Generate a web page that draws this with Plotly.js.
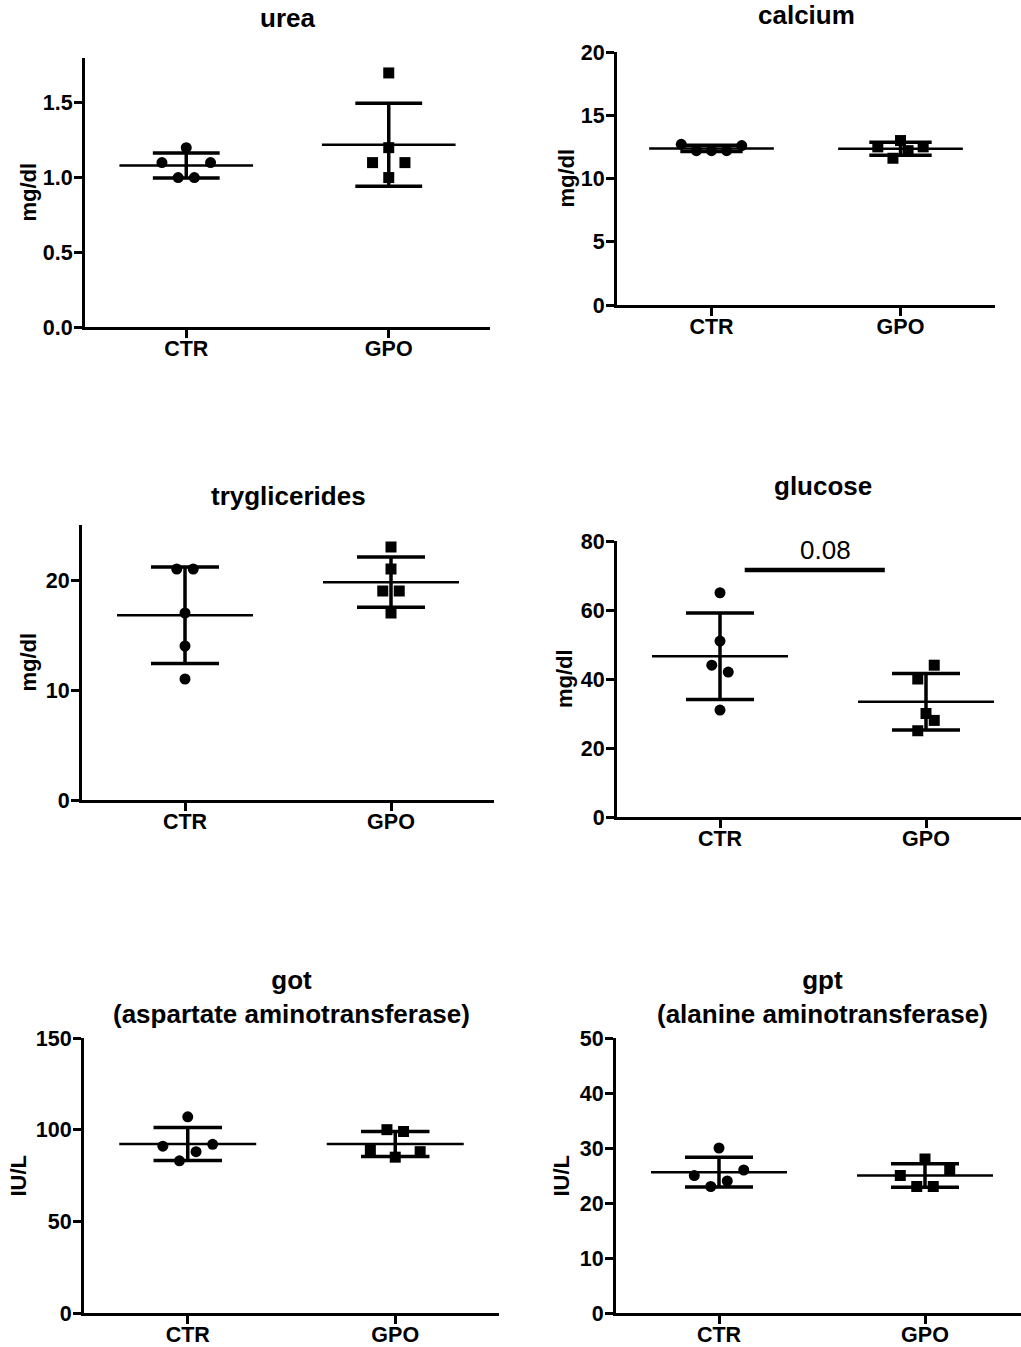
<!DOCTYPE html>
<html><head><meta charset="utf-8">
<script src="https://cdn.plot.ly/plotly-3.0.1.min.js"></script>
<style>html,body{margin:0;padding:0;background:#fff}</style>
</head><body><div id="chart" style="width:1021px;height:1347px"></div>
<script>
// ---- data ----
const groups = ['CTR', 'GPO'];
const ureaCTR = [1.2, 1.1, 1.1, 1.0, 1.0];
const ureaGPO = [1.7, 1.2, 1.1, 1.1, 1.0];
const calciumCTR = [12.7, 12.2, 12.2, 12.2, 12.6];
const calciumGPO = [13.0, 12.5, 12.5, 12.2, 11.6];
const trigCTR = [21, 21, 17, 14, 11];
const trigGPO = [23, 21, 19, 19, 17];
const glucoseCTR = [65, 51, 44, 42, 31];
const glucoseGPO = [44, 40, 30, 28, 25];
const gotCTR = [107, 91, 92, 88, 83];
const gotGPO = [100, 99, 89, 88, 85];
const gptCTR = [30, 25, 26, 24, 23];
const gptGPO = [28, 25, 26, 23, 23];
const glucoseP = '0.08';

// ---- layout helpers (horizontal spread slots of overlapping dots) ----
const slots = {
  urea: [[0, -1.5, 1.5, -0.5, 0.5], [0, 0, -1, 1, 0]],
  calcium: [[-2, -1, 0, 1, 2], [0, -1.5, 1.5, 0.5, -0.5]],
  trig: [[-0.5, 0.5, 0, 0, 0], [0, 0, -0.5, 0.5, 0]],
  glucose: [[0, 0, -0.5, 0.5, 0], [0.5, -0.5, 0, 0.5, -0.5]],
  got: [[0, -1.5, 1.5, 0.5, -0.5], [-0.5, 0.5, -1.5, 1.5, 0]],
  gpt: [[0, -1.5, 1.5, 0.5, -0.5], [0, -1.5, 1.5, -0.5, 0.5]]
};

const W = 1021, H = 1347;
const panels = [
  {key:'urea', title:'urea', ytitle:'mg/dl', data:[ureaCTR, ureaGPO], box:[85,490,58,327], xr:[-0.5,1.5], yr:[0,1.8], tv:[0,0.5,1,1.5], fmt:'.1f', titleY:18, ytX:28},
  {key:'calcium', title:'calcium', ytitle:'mg/dl', data:[calciumCTR, calciumGPO], box:[617,995,52,305], xr:[-0.5,1.5], yr:[0,20], tv:[0,5,10,15,20], fmt:'d', titleY:15, ytX:566},
  {key:'trig', title:'tryglicerides', ytitle:'mg/dl', data:[trigCTR, trigGPO], box:[82,494,525,800], xr:[-0.5,1.5], yr:[0,25], tv:[0,10,20], fmt:'d', titleY:496, ytX:28},
  {key:'glucose', title:'glucose', ytitle:'mg/dl', data:[glucoseCTR, glucoseGPO], box:[617,1021,541,817], xr:[-0.5,-0.5+(1021-617)/206], yr:[0,80], tv:[0,20,40,60,80], fmt:'d', titleY:486, titleX:823, ytX:564},
  {key:'got', title:'got<br>(aspartate aminotransferase)', ytitle:'IU/L', data:[gotCTR, gotGPO], box:[84,499,1038,1313], xr:[-0.5,1.5], yr:[0,150], tv:[0,50,100,150], fmt:'d', titleY:997, ytX:18},
  {key:'gpt', title:'gpt<br>(alanine aminotransferase)', ytitle:'IU/L', data:[gptCTR, gptGPO], box:[616,1021,1038,1313], xr:[-0.5,-0.5+(1021-616)/206], yr:[0,50], tv:[0,10,20,30,40,50], fmt:'d', titleY:997, titleX:822, ytX:561}
];

const mean = a => a.reduce((s, v) => s + v, 0) / a.length;
const sd = a => { const m = mean(a); return Math.sqrt(a.reduce((s, v) => s + (v - m) * (v - m), 0) / (a.length - 1)); };

const FONT = 'Arial, "Liberation Sans", sans-serif';
const traces = [];
const layout = {
  width: W, height: H, margin: {l:0, r:0, t:0, b:0},
  paper_bgcolor: '#fff', plot_bgcolor: '#fff', showlegend: false,
  annotations: [], shapes: []
};

panels.forEach((p, i) => {
  const n = i === 0 ? '' : String(i + 1);
  const xa = 'x' + n, ya = 'y' + n;
  const [x0, x1, y0, y1] = p.box;
  const pxPerUnit = (x1 - x0) / (p.xr[1] - p.xr[0]);
  const axCommon = {
    showline: true, linewidth: 3, linecolor: '#000', ticks: 'outside', ticklen: 8,
    tickwidth: 3, tickcolor: '#000', showgrid: false, zeroline: false, fixedrange: true,
    tickfont: {family: FONT, size: 21.5, color: '#000', weight: 'bold'}
  };
  layout['xaxis' + n] = Object.assign({}, axCommon, {
    domain: [x0 / W, x1 / W], range: p.xr, anchor: ya, ticklabelstandoff: -8,
    tickmode: 'array', tickvals: [0, 1], ticktext: groups
  });
  layout['yaxis' + n] = Object.assign({}, axCommon, {
    domain: [1 - y1 / H, 1 - y0 / H], range: p.yr, anchor: xa, ticklabelstandoff: -3,
    tickmode: 'array', tickvals: p.tv, tickformat: p.fmt
  });

  p.data.forEach((vals, g) => {
    const m = mean(vals), s = sd(vals);
    // mean line
    traces.push({type:'scatter', mode:'lines', xaxis:xa, yaxis:ya,
      x:[g - 0.33, g + 0.33], y:[m, m], line:{color:'#000', width:2.5}, hoverinfo:'skip', cliponaxis:false});
    // SD error bar
    traces.push({type:'scatter', mode:'markers', xaxis:xa, yaxis:ya,
      x:[g], y:[m], marker:{size:1, color:'rgba(0,0,0,0)'}, hoverinfo:'skip', cliponaxis:false,
      error_y:{type:'data', array:[s], visible:true, color:'#000', thickness:3.5, width:0.165 * pxPerUnit}});
    // individual points
    traces.push({type:'scatter', mode:'markers', xaxis:xa, yaxis:ya,
      x: vals.map((v, k) => g + slots[p.key][g][k] * 0.08), y: vals,
      marker:{symbol: g === 0 ? 'circle' : 'square', size: 11, color:'#000', line:{width:0}},
      cliponaxis:false, name: groups[g]});
  });

  // panel title
  layout.annotations.push({xref:'paper', yref:'paper', x:(p.titleX || (x0 + x1) / 2) / W, y:1 - p.titleY / H,
    xanchor:'center', yanchor:'middle', showarrow:false, text:p.title,
    font:{family:FONT, size:26, color:'#000', weight:'bold'}});
  // y-axis title
  layout.annotations.push({xref:'paper', yref:'paper', x:p.ytX / W, y:1 - (y0 + y1) / 2 / H,
    xanchor:'center', yanchor:'middle', showarrow:false, textangle:-90, text:p.ytitle,
    font:{family:FONT, size:22, color:'#000', weight:'bold'}});

  if (p.key === 'glucose') {
    traces.push({type:'scatter', mode:'lines', xaxis:xa, yaxis:ya,
      x:[0.12, 0.80], y:[71.6, 71.6], line:{color:'#000', width:4.5}, hoverinfo:'skip'});
    layout.annotations.push({xref:xa, yref:ya, x:0.51, y:77.3, xanchor:'center', yanchor:'middle',
      showarrow:false, text:glucoseP, font:{family:FONT, size:26, color:'#000'}});
  }
});

Plotly.newPlot('chart', traces, layout, {displayModeBar:false, staticPlot:true});
</script></body></html>
